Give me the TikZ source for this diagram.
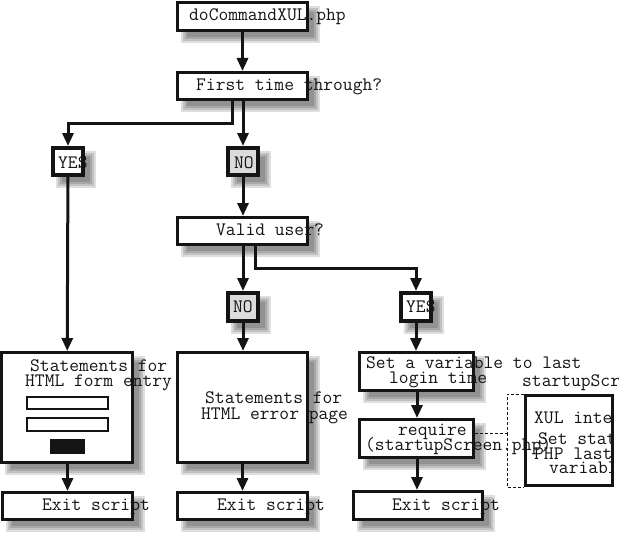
\documentclass[tikz,border=0pt]{standalone}
\usepackage{fontspec}
\usetikzlibrary{arrows.meta}
\newcommand{\boxshadow}[1]{%
  \foreach \k in {-3,-1,1,3}{%
    \fill[black, opacity=0.13] ([shift={(8+\k,8+\k)}]#1.north west) rectangle ([shift={(8-\k,8-\k)}]#1.south east);
  }}
\begin{document}
\begin{tikzpicture}[x=1pt,y=-1pt,
  plain/.style={draw=black!92, line width=3pt, fill=white, inner sep=0pt},
  box/.style={plain},
  choice/.style={box, line width=4pt, minimum width=30pt, minimum height=27pt},
  nochoice/.style={choice, fill=black!14},
  wide/.style={box, minimum width=130pt, minimum height=27pt},
  field/.style={draw=black!92, line width=2pt, fill=white, inner sep=0pt, minimum width=81pt},
  txt/.style={anchor=base west, inner sep=0pt, text=black!92, font=\ttfamily\fontsize{19pt}{20pt}\selectfont},
  conn/.style={draw=black!92, line width=3pt, -{Triangle[length=13pt,width=11pt]}},
  dashline/.style={draw=black!92, line width=1pt, dash pattern=on 3pt off 2pt}
]
\useasboundingbox (0,0) rectangle (619,535);
\clip (0,0) rectangle (619,535);

% box positions (shapes defined first without drawing, to get shadows below)
\path
  (242.5,16.5) node[wide, minimum height=28pt, draw=none, fill=none] (A) {}
  (242.5,86) node[wide, draw=none, fill=none] (B) {}
  (68,161.5) node[choice, draw=none, fill=none] (C) {}
  (243,161.5) node[choice, draw=none, fill=none] (D) {}
  (242.5,231) node[wide, draw=none, fill=none] (E) {}
  (243,307) node[choice, minimum height=28pt, draw=none, fill=none] (F) {}
  (416,307) node[choice, minimum height=28pt, draw=none, fill=none] (G) {}
  (67,407.5) node[box, minimum width=131pt, minimum height=110pt, draw=none, fill=none] (H) {}
  (242.5,407.5) node[box, minimum width=130pt, minimum height=110pt, draw=none, fill=none] (I) {}
  (416.5,371.5) node[box, minimum width=114pt, minimum height=38pt, draw=none, fill=none] (J) {}
  (416.5,438.5) node[box, minimum width=114pt, minimum height=38pt, draw=none, fill=none] (K) {}
  (67.5,506) node[wide, draw=none, fill=none] (L) {}
  (242.5,506) node[wide, draw=none, fill=none] (M) {}
  (418,505.5) node[box, minimum width=129pt, minimum height=28pt, draw=none, fill=none] (N) {};

% shadows
\foreach \n in {A,B,C,D,E,F,G,H,I,J,K,L,M,N}{\boxshadow{\n}}

% boxes
\node[wide, minimum height=28pt] at (A) {};
\node[wide] at (B) {};
\node[choice] at (C) {};
\node[nochoice] at (D) {};
\node[wide] at (E) {};
\node[nochoice, minimum height=28pt] at (F) {};
\node[choice, minimum height=28pt] at (G) {};
\node[box, minimum width=131pt, minimum height=110pt] at (H) {};
\node[box, minimum width=130pt, minimum height=110pt] at (I) {};
\node[box, minimum width=114pt, minimum height=38pt] at (J) {};
\node[box, minimum width=114pt, minimum height=38pt] at (K) {};
\node[wide] at (L) {};
\node[wide] at (M) {};
\node[box, minimum width=129pt, minimum height=28pt] at (N) {};
\node[plain, minimum width=87pt, minimum height=90pt] (O) at (569,440.5) {};

% form elements inside H
\node[field, minimum height=12pt] (f1) at (67.5,403) {};
\node[field, minimum height=13pt] (f2) at (67.5,424.5) {};
\node[fill=black!92, inner sep=0pt, minimum width=35pt, minimum height=15pt] (f3) at (67.5,446.5) {};

% connectors
\coordinate (b1) at (232,123);
\coordinate (e1) at (255,268);
\coordinate (vx) at (417,0);
\draw[conn] (A) -- (B);
\draw[conn] (b1 |- B.south) -- (b1) -| (C.north);
\draw[conn] (B.south -| D.north) -- (D.north);
\draw[conn] (C) -- (H);
\draw[conn] (D.south) -- (D.south |- E.north);
\draw[conn] (E.south -| F.north) -- (F.north);
\draw[conn] (e1 |- E.south) -- (e1) -| (G.north);
\draw[conn] (F) -- (F.south |- I.north);
\draw[conn] (G.south) -- (G.south |- J.north);
\draw[conn] (H.south -| L.north) -- (L.north);
\draw[conn] (I) -- (M);
\draw[conn] (vx |- J.south) -- (vx |- K.north);
\draw[conn] (vx |- K.south) -- (vx |- N.north);

% dashed bracket to startupScreen
\coordinate (d1) at (507,433);
\coordinate (d2) at (507,394);
\coordinate (d3) at (507,487);
\draw[dashline] (K.east |- d1) -- (d1) -- (d2) -- (d2 -| O.west);
\draw[dashline] (d1) -- (d3) -- (d3 -| O.west);

% texts
\node[txt] (tA) at (189,21) {doCommandXUL.php};
\node[txt] (tB) at (196,91) {First time through?};
\node[txt] (tC) at (58,168) {YES};
\node[txt] (tD) at (234,168) {NO};
\node[txt] (tE) at (216,235) {Valid user?};
\node[txt] (tF) at (233,312) {NO};
\node[txt] (tG) at (406,312) {YES};
\node[txt] (tH1) at (30,371) {Statements for};
\node[txt] (tH2) at (25,386) {HTML form entry};
\node[txt] (tI1) at (205,403) {Statements for};
\node[txt] (tI2) at (201,419) {HTML error page};
\node[txt] (tJ1) at (366,368) {Set a variable to last};
\node[txt] (tJ2) at (389,383) {login time};
\node[txt] (tK1) at (398,435) {require};
\node[txt] (tK2) at (365,450) {(startupScreen.php)};
\node[txt] (tL) at (42,510) {Exit script};
\node[txt] (tM) at (217,510) {Exit script};
\node[txt] (tN) at (392,510) {Exit script};
\node[txt] (tO) at (522,386) {startupScreen.php};
\begin{scope}
  \clip (0,0) rectangle (613,535);
  \node[txt] (tO1) at (534,423) {XUL interface};
  \node[txt] (tO2) at (538,444) {Set state};
  \node[txt] (tO3) at (534,459) {PHP last login};
  \node[txt] (tO4) at (549,473) {variable};
\end{scope}
\end{tikzpicture}
\end{document}
